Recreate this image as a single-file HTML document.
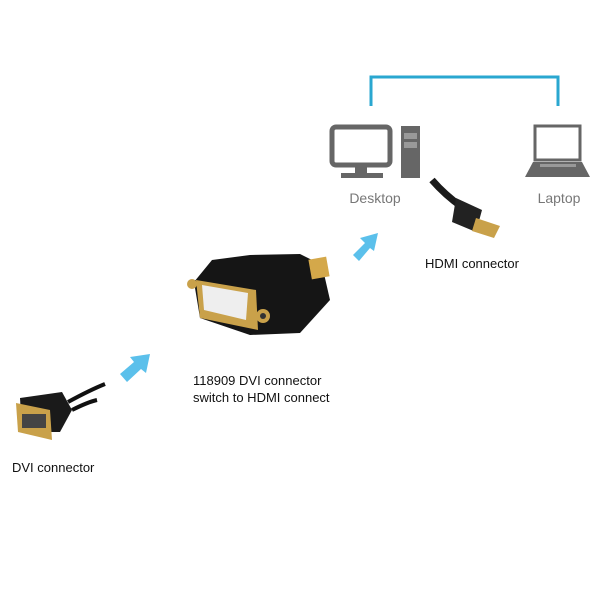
<!DOCTYPE html>
<html><head><style>
html,body{margin:0;padding:0;background:#fff;}
svg{display:block;}
text{font-family:"Liberation Sans",sans-serif;}
</style></head><body>
<svg width="600" height="600" viewBox="0 0 600 600" xmlns="http://www.w3.org/2000/svg">
<rect width="600" height="600" fill="#fff"/>
<path d="M371 106 V77 H558 V106" fill="none" stroke="#2aa7d0" stroke-width="3"/>
<rect x="332" y="127" width="58" height="38" rx="4" fill="none" stroke="#666" stroke-width="5"/>
<rect x="355" y="166" width="12" height="8" fill="#666"/>
<rect x="341" y="173" width="42" height="5" fill="#666"/>
<rect x="401" y="126" width="19" height="52" fill="#666"/>
<rect x="404" y="133" width="13" height="6" fill="#999"/>
<rect x="404" y="142" width="13" height="6" fill="#999"/>
<rect x="535" y="126" width="45" height="34" fill="none" stroke="#666" stroke-width="3"/>
<path d="M533 162 H582 L590 177 H525 Z" fill="#666"/>
<rect x="540" y="164" width="36" height="3" fill="#999"/>
<text x="375" y="203" font-size="14" fill="#777" text-anchor="middle">Desktop</text>
<text x="559" y="203" font-size="14" fill="#777" text-anchor="middle">Laptop</text>
<path d="M432 180 Q445 195 462 207" stroke="#1a1a1a" stroke-width="7" fill="none"/>
<path d="M456 198 L482 210 L476 232 L452 222 Z" fill="#222"/>
<path d="M476 218 L500 226 L494 238 L472 231 Z" fill="#c9a14a"/>
<text x="425" y="268" font-size="13" fill="#111">HDMI connector</text>
<g fill="#5bc0eb">
<path d="M120 374 L134 362 L130 357 L150 354 L146 373 L141 369 L127 382 Z"/>
<path d="M353 255 L365 243 L360 238 L378 233 L374 251 L370 248 L359 261 Z"/>
</g>
<path d="M212 260 L250 255 L300 254 L322 265 L330 300 L300 333 L250 335 L200 318 L194 282 Z" fill="#151515"/>
<rect x="310" y="258" width="18" height="20" fill="#d4a84a" transform="rotate(-10 319 268)"/>
<path d="M196 280 L256 290 L258 330 L200 318 Z" fill="#c9a14a"/>
<path d="M202 285 L248 293 L246 320 L204 310 Z" fill="#eee"/>
<circle cx="192" cy="284" r="5" fill="#c9a14a"/>
<circle cx="263" cy="316" r="7" fill="#c9a14a"/>
<circle cx="263" cy="316" r="3" fill="#333"/>
<text x="193" y="385" font-size="13" fill="#111">118909 DVI connector</text>
<text x="193" y="402" font-size="13" fill="#111">switch to HDMI connect</text>
<path d="M68 402 Q90 390 105 384" stroke="#111" stroke-width="4" fill="none"/>
<path d="M72 410 Q88 402 97 400" stroke="#111" stroke-width="4" fill="none"/>
<path d="M20 398 L62 392 L72 410 L60 432 L22 432 Z" fill="#1a1a1a"/>
<path d="M16 403 L50 410 L52 440 L18 432 Z" fill="#c9a14a"/>
<rect x="22" y="414" width="24" height="14" fill="#444"/>
<text x="12" y="472" font-size="13" fill="#111">DVI connector</text>
</svg>
</body></html>
